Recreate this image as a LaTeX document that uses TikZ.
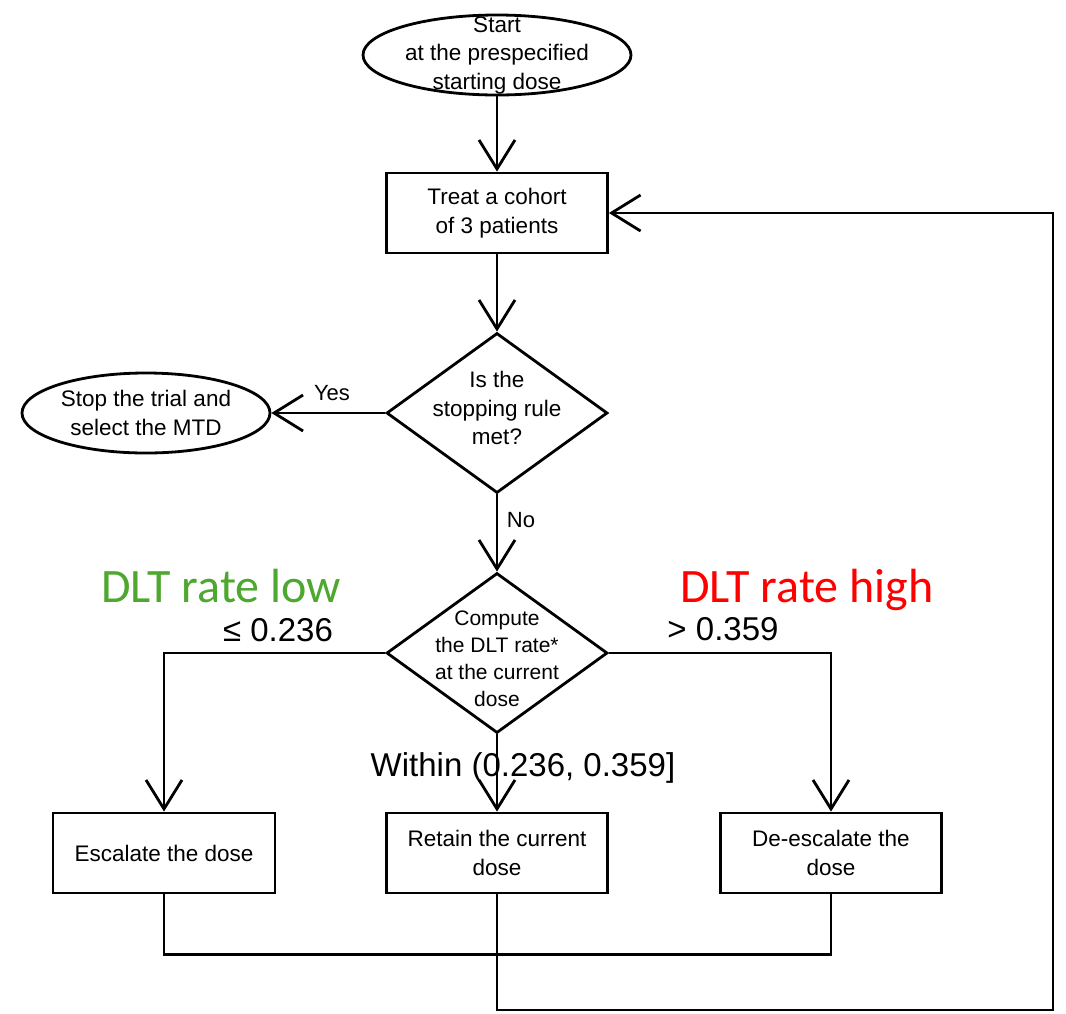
\documentclass[tikz,border=0pt]{standalone}
\usepackage{fontspec}
\setmainfont{Liberation Sans}
\newfontfamily\zonefont{Carlito}
\usetikzlibrary{shapes.geometric,arrows.meta}
\definecolor{lowgreen}{RGB}{78,167,46}
\definecolor{highred}{RGB}{255,0,0}
\tikzset{
  flow/.style={line width=2.8pt, -{Straight Barb[length=29pt,width=36pt]}},
  link/.style={line width=2.8pt},
  box/.style={draw, line width=2.8pt, minimum width=221pt, minimum height=80pt,
    inner sep=0pt, align=center, font=\fontsize{22.5}{29}\selectfont},
  terminal/.style={box, ellipse},
  decision/.style={draw, diamond, line width=2.8pt, minimum width=221pt,
    minimum height=160pt, inner sep=0pt},
  dtext/.style={align=center, inner sep=0pt, font=\fontsize{22.5}{28.5}\selectfont},
  edgelabel/.style={inner sep=0pt, anchor=base, font=\fontsize{22}{26}\selectfont},
  rangelabel/.style={inner sep=0pt, anchor=base, font=\fontsize{33}{38}\selectfont},
  zonelabel/.style={inner sep=0pt, anchor=base, font=\zonefont\fontsize{48}{56}\selectfont}
}
\begin{document}
\begin{tikzpicture}[x=1pt, y=-1pt]
  \useasboundingbox (0,0) rectangle (1066,1013);
  % nodes
  \node[terminal, minimum width=268pt,
    label={[dtext]center:Start\\at the prespecified\\starting dose}] (start) at (497,55) {};
  \node[box] (treat) at (497,213) {Treat a cohort\\of 3 patients};
  \node[decision,
    label={[dtext, yshift=5pt]center:Is the\\stopping rule\\met?}] (stoprule) at (497,413) {};
  \node[terminal, minimum width=248pt] (stoptrial) at (146,413) {Stop the trial and\\select the MTD};
  \node[decision,
    label={[dtext, font=\fontsize{21}{27}\selectfont, yshift=-6pt]center:Compute\\the DLT rate*\\at the current\\dose}] (dltrate) at (497,653) {};
  \node[box, minimum width=222pt] (escalate) at (164,853) {Escalate the dose};
  \node[box] (retain) at (497,853) {Retain the current\\dose};
  \node[box] (deescalate) at (831,853) {De-escalate the\\dose};
  % connectors
  \draw[flow] (start) -- (treat);
  \draw[flow] (treat) -- (stoprule);
  \draw[flow] (stoprule) -- (stoptrial);
  \draw[flow] (stoprule) -- (dltrate);
  \draw[flow] (dltrate.west) -| (escalate.north);
  \draw[flow] (dltrate.east) -| (deescalate.north);
  \draw[flow] (dltrate) -- (retain);
  \draw[link] (escalate.south) -- ++(0,60) -| (deescalate.south);
  \coordinate (loopcorner) at (1053,1010);
  \draw[flow] (retain.south) |- (loopcorner) |- (treat.east);
  % labels
  \node[edgelabel] (yes) at (332,400) {Yes};
  \node[edgelabel] (no) at (521,527) {No};
  \node[rangelabel] (lowcut) at (278,641) {≤ 0.236};
  \node[rangelabel] (highcut) at (723,640) {> 0.359};
  \node[rangelabel] (within) at (523,776) {Within (0.236, 0.359]};
  \node[zonelabel, text=lowgreen] (lowzone) at (221,602) {DLT rate low};
  \node[zonelabel, text=highred] (highzone) at (807,602) {DLT rate high};
\end{tikzpicture}
\end{document}
